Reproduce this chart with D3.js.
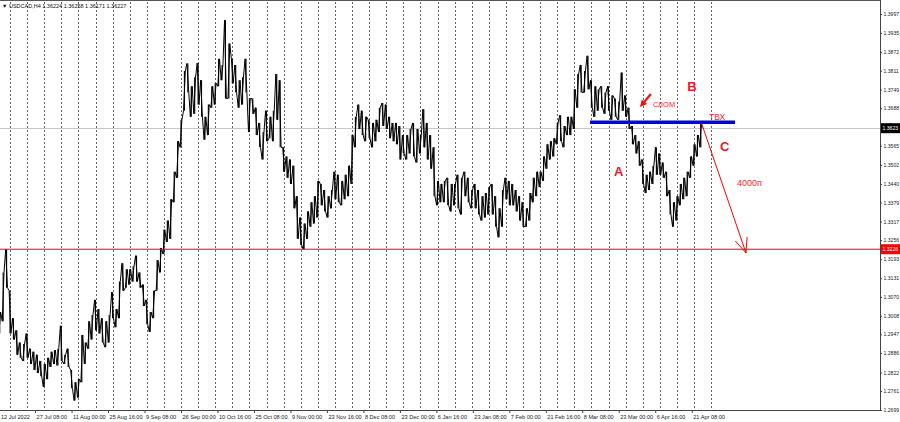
<!DOCTYPE html>
<html><head><meta charset="utf-8">
<script src="https://cdn.jsdelivr.net/npm/d3@7/dist/d3.min.js"></script>
<style>
html,body{margin:0;padding:0;background:#fff;}
svg{display:block;font-family:"Liberation Sans",Arial,sans-serif;}
</style></head><body>
<svg id="c" width="900" height="422"></svg>
<script>
// ---------- data ----------
const symbol = "USDCAD,H4";
const lastOHLC = [1.36224, 1.36258, 1.36171, 1.36227];
const firstDay = -4; // trading days relative to Mon 18 Jul 2022 (Tue 12 Jul 2022)
const dayHigh = [
 1.3040,1.3020,1.3150,1.3226,
 1.3090,1.3000,1.2960,1.2920,1.2915,
 1.2950,1.2900,1.2890,1.2880,1.2860,
 1.2850,1.2870,1.2890,1.2895,1.2900,
 1.2975,1.2880,1.2900,1.2830,1.2790,
 1.2800,1.2945,1.2920,1.2990,1.3010,
 1.3060,1.3030,1.3000,1.2990,1.3010,
 1.3085,1.3030,1.3120,1.3180,1.3160,
 1.3160,1.3170,1.3205,1.3150,1.3110,
 1.3060,1.3020,1.3090,1.3190,1.3230,
 1.3290,1.3320,1.3390,1.3480,1.3580,
 1.3650,1.3810,1.3835,1.3760,1.3790,
 1.3836,1.3780,1.3660,1.3700,1.3760,
 1.3770,1.3850,1.3830,1.3977,1.3900,
 1.3850,1.3830,1.3780,1.3790,1.3850,
 1.3720,1.3720,1.3690,1.3640,1.3610,
 1.3680,1.3660,1.3680,1.3800,1.3780,
 1.3560,1.3530,1.3520,1.3500,1.3400,
 1.3330,1.3310,1.3350,1.3380,1.3400,
 1.3450,1.3440,1.3420,1.3400,1.3420,
 1.3480,1.3470,1.3450,1.3470,1.3500,
 1.3600,1.3660,1.3700,1.3680,1.3660,
 1.3650,1.3640,1.3650,1.3690,1.3705,
 1.3700,1.3660,1.3640,1.3640,1.3630,
 1.3600,1.3600,1.3620,1.3640,1.3620,
 1.3600,1.3685,1.3640,1.3600,1.3560,
 1.3450,1.3440,1.3450,1.3460,1.3440,
 1.3440,1.3470,1.3460,1.3480,1.3460,
 1.3420,1.3440,1.3420,1.3400,1.3410,
 1.3430,1.3440,1.3400,1.3360,1.3420,
 1.3460,1.3450,1.3440,1.3420,1.3400,
 1.3380,1.3360,1.3410,1.3460,1.3480,
 1.3480,1.3530,1.3570,1.3580,1.3590,
 1.3640,1.3665,1.3630,1.3660,1.3660,
 1.3750,1.3800,1.3830,1.3810,1.3860,
 1.3780,1.3760,1.3750,1.3760,1.3740,
 1.3760,1.3730,1.3720,1.3710,1.3805,
 1.3730,1.3690,1.3630,1.3600,1.3580,
 1.3520,1.3470,1.3480,1.3500,1.3560,
 1.3540,1.3510,1.3480,1.3420,1.3380,
 1.3400,1.3440,1.3460,1.3480,1.3530,
 1.3570,1.3600,1.3645];
const dayLow = [
 1.2960,1.2950,1.2990,1.3100,
 1.2950,1.2930,1.2880,1.2870,1.2860,
 1.2870,1.2850,1.2830,1.2820,1.2810,
 1.2775,1.2800,1.2840,1.2850,1.2845,
 1.2860,1.2850,1.2840,1.2770,1.2730,
 1.2740,1.2790,1.2850,1.2900,1.2930,
 1.2960,1.2950,1.2920,1.2905,1.2920,
 1.3000,1.2970,1.3000,1.3090,1.3100,
 1.3110,1.3120,1.3120,1.3100,1.3040,
 1.2980,1.2955,1.3000,1.3090,1.3150,
 1.3210,1.3250,1.3260,1.3380,1.3460,
 1.3560,1.3680,1.3740,1.3660,1.3670,
 1.3700,1.3660,1.3585,1.3600,1.3690,
 1.3700,1.3760,1.3780,1.3720,1.3720,
 1.3770,1.3740,1.3690,1.3700,1.3740,
 1.3610,1.3670,1.3600,1.3560,1.3520,
 1.3580,1.3590,1.3580,1.3650,1.3560,
 1.3480,1.3460,1.3440,1.3360,1.3260,
 1.3240,1.3226,1.3260,1.3300,1.3310,
 1.3330,1.3370,1.3350,1.3330,1.3360,
 1.3390,1.3380,1.3370,1.3390,1.3400,
 1.3440,1.3560,1.3620,1.3600,1.3580,
 1.3590,1.3560,1.3580,1.3610,1.3630,
 1.3620,1.3590,1.3580,1.3570,1.3520,
 1.3540,1.3520,1.3540,1.3530,1.3510,
 1.3540,1.3560,1.3520,1.3490,1.3400,
 1.3370,1.3380,1.3380,1.3370,1.3350,
 1.3370,1.3360,1.3340,1.3400,1.3380,
 1.3360,1.3360,1.3340,1.3320,1.3330,
 1.3340,1.3340,1.3300,1.3265,1.3300,
 1.3390,1.3370,1.3370,1.3350,1.3320,
 1.3300,1.3300,1.3320,1.3380,1.3400,
 1.3430,1.3450,1.3490,1.3520,1.3530,
 1.3570,1.3580,1.3560,1.3600,1.3600,
 1.3620,1.3690,1.3740,1.3740,1.3750,
 1.3690,1.3660,1.3680,1.3690,1.3670,
 1.3680,1.3650,1.3660,1.3650,1.3680,
 1.3660,1.3620,1.3570,1.3540,1.3500,
 1.3440,1.3410,1.3420,1.3440,1.3470,
 1.3470,1.3460,1.3400,1.3340,1.3300,
 1.3320,1.3370,1.3390,1.3400,1.3460,
 1.3500,1.3530,1.3560];
const yTickValues = [1.3997,1.3935,1.3872,1.3811,1.3749,1.3688,1.3565,1.3502,1.3440,1.3379,1.3317,1.3256,1.3193,1.3131,1.3070,1.3008,1.2947,1.2886,1.2822,1.2761,1.2699];
const xTickLabels = ["12 Jul 2022","27 Jul 08:00","11 Aug 00:00","25 Aug 16:00","9 Sep 08:00","26 Sep 00:00","10 Oct 16:00","25 Oct 08:00","9 Nov 00:00","23 Nov 16:00","8 Dec 08:00","23 Dec 00:00","6 Jan 16:00","23 Jan 08:00","7 Feb 00:00","21 Feb 16:00","8 Mar 08:00","23 Mar 00:00","6 Apr 16:00","21 Apr 08:00"];
const xTickTimes = ["2022-07-12T00:00","2022-07-27T08:00","2022-08-11T00:00","2022-08-25T16:00","2022-09-09T08:00","2022-09-26T00:00","2022-10-10T16:00","2022-10-25T08:00","2022-11-09T00:00","2022-11-23T16:00","2022-12-08T08:00","2022-12-23T00:00","2023-01-06T16:00","2023-01-23T08:00","2023-02-07T00:00","2023-02-21T16:00","2023-03-08T08:00","2023-03-23T00:00","2023-04-06T16:00","2023-04-21T08:00"];
const weekCount = 42;
const levelRed = 1.3226;
const levelBlue = {price:1.3642, from:169.6, to:212};
const targetArrow = {from:[202.2,1.3639], to:[215.2,1.3214]};
const smallArrow = {from:[187.4,1.3735], to:[184.2,1.3692]};
const labelsBig = [{t:"A",d:178,p:1.3482},{t:"B",d:199.4,p:1.3761},{t:"C",d:209,p:1.3564}];
const labelsSmall = [{t:"СЛОМ",d:188,p:1.3699,s:7.5},{t:"ТВХ",d:204.4,p:1.3659,s:8.5},{t:"4000п",d:212.6,p:1.3443,s:9}];

// ---------- helpers ----------
function tradingDay(str){
  const [dt,tm] = str.split("T");
  const [Y,M,D] = dt.split("-").map(Number);
  const [h,m] = tm.split(":").map(Number);
  const base = Date.UTC(2022,6,18);
  const diff = Math.round((Date.UTC(Y,M-1,D)-base)/864e5);
  const w = Math.floor(diff/7), r = diff - 7*w;
  return w*5 + Math.min(r,5) + (h+m/60)/24;
}

// ---------- scales ----------
const W=900,H=422, plotR=880, plotB=410;
const x = d3.scaleLinear().domain([0,200]).range([10,10+200*3.42]);
const y = d3.scaleLinear().domain([1.2699,1.3997]).range([410,14]);
const svg = d3.select("#c");

// frame
svg.append("line").attr("x1",0).attr("x2",plotR).attr("y1",0.5).attr("y2",0.5).attr("stroke","#555");

// weekly separators
svg.append("g").selectAll("line").data(d3.range(weekCount)).join("line")
  .attr("x1",d=>Math.round(x(d*5))+0.5).attr("x2",d=>Math.round(x(d*5))+0.5)
  .attr("y1",2).attr("y2",plotB)
  .attr("stroke","#666").attr("stroke-dasharray","2,2").attr("stroke-width",1);

// current price grey line
svg.append("line").attr("x1",0).attr("x2",plotR)
  .attr("y1",Math.round(y(lastOHLC[3]))+0.5).attr("y2",Math.round(y(lastOHLC[3]))+0.5)
  .attr("stroke","#c8c8c8");

// price series
const days = dayHigh.map((h,i)=>({d:firstDay+i,h:h,l:dayLow[i]}));
const pts=[];
days.forEach((o,i)=>{
  const xc=x(o.d);
  if(i===days.length-1){ pts.push([xc-0.8,y(o.l)],[xc+0.3,y(o.h)],[xc+1.2,y(lastOHLC[3])]); return; }
  const n=days[i+1], up=(n.h+n.l)>=(o.h+o.l);
  if(up) pts.push([xc-0.9,y(o.l)],[xc+0.9,y(o.h)]);
  else pts.push([xc-0.9,y(o.h)],[xc+0.9,y(o.l)]);
});
svg.append("path").attr("d",d3.line()(pts)).attr("fill","none").attr("stroke","#000").attr("stroke-width",1).attr("stroke-linejoin","bevel");
svg.append("g").selectAll("line").data(days).join("line")
  .attr("x1",o=>x(o.d)).attr("x2",o=>x(o.d)).attr("y1",o=>y(o.h)).attr("y2",o=>y(o.l))
  .attr("stroke","#000").attr("stroke-width",1.1);

// red level line
svg.append("line").attr("x1",0).attr("x2",plotR)
  .attr("y1",y(levelRed)).attr("y2",y(levelRed)).attr("stroke","#f00").attr("stroke-width",1);

// blue line
svg.append("line").attr("x1",x(levelBlue.from)).attr("x2",x(levelBlue.to))
  .attr("y1",y(levelBlue.price)).attr("y2",y(levelBlue.price)).attr("stroke","#0000e6").attr("stroke-width",3.5);

// target arrow
const ax1=x(targetArrow.from[0]), ay1=y(targetArrow.from[1]), ax2=x(targetArrow.to[0]), ay2=y(targetArrow.to[1]);
svg.append("line").attr("x1",ax1).attr("y1",ay1).attr("x2",ax2).attr("y2",ay2).attr("stroke","#f00").attr("stroke-width",1);
const ang=Math.atan2(ay1-ay2,ax1-ax2);
[0.4,-0.4].forEach(a=>{
  svg.append("line").attr("x1",ax2).attr("y1",ay2)
    .attr("x2",ax2+16*Math.cos(ang+a)).attr("y2",ay2+16*Math.sin(ang+a))
    .attr("stroke","#f00").attr("stroke-width",1);
});

// small thick arrow (СЛОМ)
const sx1=x(smallArrow.from[0]), sy1=y(smallArrow.from[1]), sx2=x(smallArrow.to[0]), sy2=y(smallArrow.to[1]);
const sa=Math.atan2(sy2-sy1,sx2-sx1);
svg.append("line").attr("x1",sx1).attr("y1",sy1).attr("x2",sx2-5*Math.cos(sa)).attr("y2",sy2-5*Math.sin(sa))
  .attr("stroke","#f01010").attr("stroke-width",2.2);
svg.append("path").attr("fill","#f01010")
  .attr("d",`M${sx2},${sy2}L${sx2-7*Math.cos(sa)+3.5*Math.sin(sa)},${sy2-7*Math.sin(sa)-3.5*Math.cos(sa)}L${sx2-7*Math.cos(sa)-3.5*Math.sin(sa)},${sy2-7*Math.sin(sa)+3.5*Math.cos(sa)}Z`);

// annotation text
svg.append("g").selectAll("text").data(labelsBig).join("text")
  .attr("x",d=>x(d.d)).attr("y",d=>y(d.p)).attr("text-anchor","middle").attr("dominant-baseline","central")
  .attr("font-size",13).attr("font-weight","bold").attr("fill","#e8202a").text(d=>d.t);
svg.append("g").selectAll("text").data(labelsSmall).join("text")
  .attr("x",d=>x(d.d)).attr("y",d=>y(d.p)).attr("text-anchor","start").attr("dominant-baseline","central")
  .attr("font-size",d=>d.s).attr("fill","#f02828").text(d=>d.t);

// right axis
const yAxis = d3.axisRight(y).tickValues(yTickValues).tickFormat(d3.format(".4f")).tickSize(2).tickPadding(1.5);
const gy = svg.append("g").attr("transform",`translate(${plotR},0)`).call(yAxis);
gy.select(".domain").attr("stroke","#444").attr("d",`M0.5,0V${plotB}`);
gy.selectAll(".tick line").attr("stroke","#444");
gy.selectAll("text").attr("font-size",5.1).attr("fill","#222").attr("font-family","'Liberation Sans',Arial,sans-serif");

// bottom axis
const xVals = xTickTimes.map(tradingDay);
const xAxis = d3.axisBottom(x).tickValues(xVals).tickFormat((d,i)=>xTickLabels[i]).tickSize(3).tickPadding(2);
const gx = svg.append("g").attr("transform",`translate(0,${plotB})`).call(xAxis);
gx.select(".domain").attr("stroke","#444").attr("d",`M0,0.5H${plotR+0.5}`);
gx.selectAll(".tick line").attr("stroke","#444");
gx.selectAll("text").attr("font-size",5.6).attr("fill","#222").attr("text-anchor","start")
  .attr("dx",d=>Math.max(1, 0.5 - x(d)))
  .attr("font-family","'Liberation Sans',Arial,sans-serif");

// price label boxes
function priceBox(p,bg){
  const yy=y(p);
  svg.append("rect").attr("x",plotR+1).attr("y",yy-5).attr("width",W-plotR-1).attr("height",10).attr("fill",bg);
  svg.append("text").attr("x",plotR+2.5).attr("y",yy).attr("dominant-baseline","central")
    .attr("font-size",5.1).attr("fill","#fff").text(p.toFixed(4));
}
priceBox(lastOHLC[3],"#000");
priceBox(levelRed,"#f00");

// title
svg.append("text").attr("x",2).attr("y",6).attr("dominant-baseline","central").attr("font-size",5.5).attr("fill","#111")
  .text("▼ "+symbol+"  "+lastOHLC.map(v=>v.toFixed(5)).join(" "));
</script>
</body></html>
